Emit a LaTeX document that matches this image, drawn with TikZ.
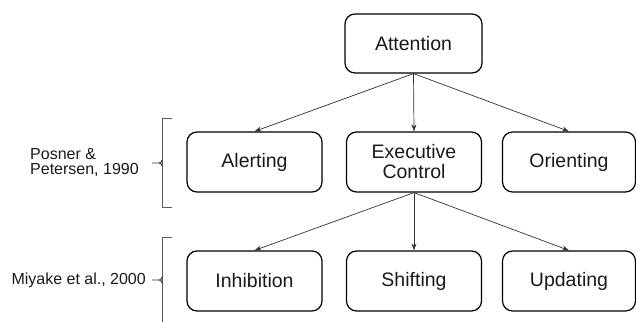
\documentclass[tikz,border=0pt]{standalone}
\usepackage{fontspec}
\setmainfont{Liberation Sans}
\usetikzlibrary{arrows.meta}
\tikzset{
  box/.style={draw=black, line width=1.2pt, rounded corners=10pt, minimum width=135pt, minimum height=60pt, inner sep=0pt, align=center, font=\fontsize{19.5}{22}\selectfont, text=black!90},
  conn/.style={draw=black!80, line width=0.7pt, -{Stealth[length=7pt,width=5pt]}},
  brack/.style={draw=black!65, line width=0.9pt},
  tick/.style={draw=black!80, line width=0.9pt},
  cite/.style={font=\fontsize{16}{15}\selectfont, text=black!90, inner sep=0pt, align=left}
}
\begin{document}
\begin{tikzpicture}[x=1pt,y=1pt]
\useasboundingbox (0,0) rectangle (636,321);
\node[box, minimum width=137pt, minimum height=59pt] (att) at (413.5,277.5) {Attention};
\node[box] (alert) at (254.5,159) {Alerting};
\node[box] (exec) at (414,159) {Executive\\[-2pt]Control};
\node[box, minimum width=133pt] (orient) at (569,159) {Orienting};
\node[box] (inhib) at (254.5,40) {Inhibition};
\node[box] (shift) at (414,40) {Shifting};
\node[box, minimum width=133pt] (update) at (569,40) {Updating};
\draw[conn] (att.south) -- (alert.north);
\draw[conn] (att.south) -- (exec.north);
\draw[conn] (att.south) -- (orient.north);
\draw[conn] (exec.south) -- (inhib.north);
\draw[conn] (exec.south) -- (shift.north);
\draw[conn] (exec.south) -- (update.north);
\node[cite, anchor=west] (posner) at (30,159) {Posner \&\\Petersen, 1990};
\node[cite, anchor=east] (miyake) at (146,41) {Miyake et al., 2000};
\coordinate (b1t) at (172,203);
\coordinate (b1b) at (172,114);
\coordinate (b1m) at (152,158);
\draw[brack] (b1t) -- (162,203) -- (162,114) -- (b1b);
\draw[tick] (b1m) -- (159,158) .. controls (161,158) .. (162,161);
\draw[tick] (159,158) .. controls (161,158) .. (162,155);
\coordinate (b2t) at (172,84);
\coordinate (b2m) at (152,41);
\draw[brack] (b2t) -- (162,84) -- (162,-2);
\draw[tick] (b2m) -- (159,41) .. controls (161,41) .. (162,44);
\draw[tick] (159,41) .. controls (161,41) .. (162,38);
\end{tikzpicture}
\end{document}
